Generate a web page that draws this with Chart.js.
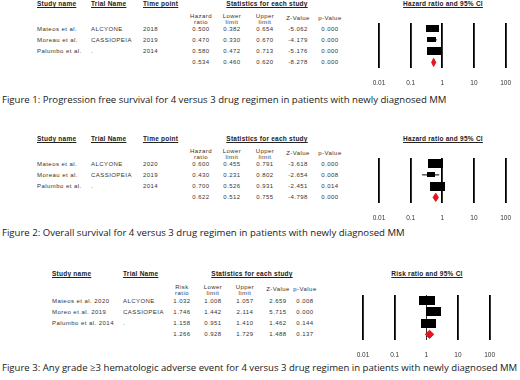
<!DOCTYPE html>
<html>
<head>
<meta charset="utf-8">
<script src="https://cdn.jsdelivr.net/npm/chart.js@4.4.1/dist/chart.umd.min.js"></script>
<style>
  body { margin: 0; background: #fff; }
  #page { position: relative; width: 520px; height: 380px; overflow: hidden;
          font-family: 'Liberation Sans', Arial, sans-serif; color: #333; }
  .t { position: absolute; white-space: nowrap; font-size: 6px; line-height: 6px; letter-spacing: 0.45px; }
  .c { transform: translateX(-50%); text-align: center; }
  .h { font-weight: bold; text-decoration: underline; font-size: 6.5px; color: #222; letter-spacing: 0.25px; }
  .cap { position: absolute; left: 2px; white-space: nowrap; font-family: 'Open Sans', sans-serif;
         font-size: 10px; line-height: 12px; color: #1a1a1a; }
  canvas { position: absolute; }
</style>
</head>
<body>
<div id="page"></div>
<script>
// Figura 1 - PFS
const fig1Studies = ['Mateos et al.', 'Moreau et al.', 'Palumbo et al.'];
const fig1Trials = ['ALCYONE', 'CASSIOPEIA', '.'];
const fig1Years = ['2018', '2019', '2014'];
const fig1Ratio = [0.500, 0.470, 0.580, 0.534];
const fig1Lower = [0.382, 0.330, 0.472, 0.460];
const fig1Upper = [0.654, 0.670, 0.713, 0.620];
const fig1Z = [-5.062, -4.179, -5.176, -8.278];
const fig1P = [0.000, 0.000, 0.000, 0.000];

// Figura 2 - OS
const fig2Studies = ['Mateos et al.', 'Moreau et al.', 'Palumbo et al.'];
const fig2Trials = ['ALCYONE', 'CASSIOPEIA', '.'];
const fig2Years = ['2020', '2019', '2014'];
const fig2Ratio = [0.600, 0.430, 0.700, 0.622];
const fig2Lower = [0.455, 0.231, 0.526, 0.512];
const fig2Upper = [0.791, 0.802, 0.931, 0.755];
const fig2Z = [-3.618, -2.654, -2.451, -4.798];
const fig2P = [0.000, 0.008, 0.014, 0.000];

// Figura 3 - eventos adversos
const fig3Studies = ['Mateos et al. 2020', 'Moreo et al. 2019', 'Palumbo et al. 2014'];
const fig3Trials = ['ALCYONE', 'CASSIOPEIA', '.'];
const fig3Ratio = [1.032, 1.746, 1.158, 1.266];
const fig3Lower = [1.008, 1.442, 0.951, 0.928];
const fig3Upper = [1.057, 2.114, 1.410, 1.729];
const fig3Z = [2.659, 5.715, 1.462, 1.488];
const fig3P = [0.008, 0.000, 0.144, 0.137];

const tickValues = [0.01, 0.1, 1, 10, 100];
const tickLabels = ['0.01', '0.1', '1', '10', '100'];

const captions = [
  'Figure 1: Progression free survival for 4 versus 3 drug regimen in patients with newly diagnosed MM',
  'Figure 2: Overall survival for 4 versus 3 drug regimen in patients with newly diagnosed MM',
  'Figure 3: Any grade \u22653 hematologic adverse event for 4 versus 3 drug regimen in patients with newly diagnosed MM'
];

const page = document.getElementById('page');

function put(txt, x, y, cls, center) {
  const d = document.createElement('div');
  d.className = 't ' + (cls || '') + (center ? ' c' : '');
  d.innerHTML = txt;
  d.style.left = x + 'px';
  d.style.top = (y - 3) + 'px';
  page.appendChild(d);
}

// legenda: ajusta o tamanho da fonte para a largura que tem na figura
function caption(txt, y, width) {
  const d = document.createElement('div');
  d.className = 'cap';
  d.textContent = txt;
  page.appendChild(d);
  const size = 10 * width / d.getBoundingClientRect().width;
  d.style.fontSize = size.toFixed(2) + 'px';
  d.style.top = (y - 6) + 'px';
}

function makeBox(w, h, color) {
  const c = document.createElement('canvas');
  c.width = w; c.height = h;
  const g = c.getContext('2d');
  g.fillStyle = color;
  g.fillRect(0, 0, w, h);
  return c;
}

// desenha o forest plot numa area de grafico dada (x0..x1, y0..y1)
function forest(area, ratio, lower, upper, boxes, thinOne) {
  const padL = 25, padR = 15, padT = 8, axisH = 20, padB = 7;
  const cv = document.createElement('canvas');
  const w = area.x1 - area.x0 + padL + padR;
  const h = area.y1 - area.y0 + padT + axisH + padB;
  cv.width = w; cv.height = h;
  cv.style.left = (area.x0 - padL) + 'px';
  cv.style.top = (area.y0 - padT) + 'px';
  cv.style.width = w + 'px';
  cv.style.height = h + 'px';
  page.appendChild(cv);

  const n = ratio.length - 1;
  const half = 0.36;
  const datasets = [];
  for (let i = 0; i < n; i++) {
    datasets.push({
      data: [{ x: lower[i], y: i }, { x: upper[i], y: i }],
      borderColor: '#000', borderWidth: 1, pointRadius: 0, showLine: true, fill: false, order: 3
    });
  }
  datasets.push({
    data: ratio.slice(0, n).map((v, i) => ({ x: v, y: i })),
    showLine: false, fill: false,
    pointStyle: boxes.map(b => makeBox(b[0], b[1], '#000')),
    pointRadius: 4, order: 2
  });
  datasets.push({
    data: [
      { x: lower[n], y: n }, { x: ratio[n], y: n - half },
      { x: upper[n], y: n }, { x: ratio[n], y: n + half }, { x: lower[n], y: n }
    ],
    showLine: true, fill: 'shape', tension: 0,
    borderColor: '#e8141c', backgroundColor: '#e8141c', borderWidth: 1, pointRadius: 0, order: 1
  });

  new Chart(cv, {
    type: 'line',
    data: { datasets },
    options: {
      responsive: false,
      animation: false,
      layout: { padding: { left: padL, right: padR, top: padT, bottom: padB } },
      plugins: { legend: { display: false }, tooltip: { enabled: false } },
      scales: {
        x: {
          type: 'logarithmic', min: 0.01, max: 100,
          afterBuildTicks: s => { s.ticks = tickValues.map(v => ({ value: v })); },
          afterFit: s => { s.height = axisH; },
          border: { display: false },
          grid: {
            color: '#000', drawTicks: false,
            lineWidth: c => (thinOne && c.tick && c.tick.value === 1) ? 0.8 : 1.8
          },
          ticks: {
            autoSkip: false, maxRotation: 0, padding: 11, color: '#333',
            font: { family: 'Liberation Sans', size: 6.5 },
            callback: (v, i) => tickLabels[i]
          }
        },
        y: { type: 'linear', min: -0.5, max: n + 0.5, reverse: true, display: false }
      }
    }
  });
}

// tabela das figuras 1 e 2
function table12(off, studies, trials, years, ratio, lower, upper, z, p) {
  const cols = [201, 232, 265, 298, 330];
  put('Study name', 37, 4 + off, 'h');
  put('Trial Name', 91, 4 + off, 'h');
  put('Time point', 143, 4 + off, 'h');
  put('Statistics for each study', 267, 4 + off, 'h', true);
  put('Hazard<br>ratio', cols[0], 15.5 + off, '', true);
  put('Lower<br>limit', cols[1], 15.5 + off, '', true);
  put('Upper<br>limit', cols[2], 15.5 + off, '', true);
  put('Z-Value', cols[3], 18 + off, '', true);
  put('p-Value', cols[4], 18 + off, '', true);
  put('Hazard ratio and 95% CI', 443, 4 + off, 'h', true);
  for (let i = 0; i < ratio.length; i++) {
    const y = 28.6 + i * 11.25 + off;
    if (i < studies.length) {
      put(studies[i], 37, y);
      put(trials[i], 91, y);
      put(years[i], 143, y);
    }
    [ratio[i], lower[i], upper[i], z[i], p[i]].forEach((v, k) => put(v.toFixed(3), cols[k], y, '', true));
  }
}

table12(0, fig1Studies, fig1Trials, fig1Years, fig1Ratio, fig1Lower, fig1Upper, fig1Z, fig1P);
table12(135, fig2Studies, fig2Trials, fig2Years, fig2Ratio, fig2Lower, fig2Upper, fig2Z, fig2P);

// tabela da figura 3
(function () {
  const off = 272;
  const cols = [182, 213, 245, 278, 305];
  put('Study name', 52, 2 + off, 'h');
  put('Trial Name', 123, 2 + off, 'h');
  put('Statistics for each study', 252, 2 + off, 'h', true);
  put('Risk<br>ratio', cols[0], 14.5 + off, '', true);
  put('Lower<br>limit', cols[1], 14.5 + off, '', true);
  put('Upper<br>limit', cols[2], 14.5 + off, '', true);
  put('Z-Value', cols[3], 17 + off, '', true);
  put('p-Value', cols[4], 17 + off, '', true);
  put('Risk ratio and 95% CI', 427, 2 + off, 'h', true);
  for (let i = 0; i < fig3Ratio.length; i++) {
    const y = 28.6 + i * 11.25 + off;
    if (i < fig3Studies.length) {
      put(fig3Studies[i], 52, y);
      put(fig3Trials[i], 123, y);
    }
    [fig3Ratio[i], fig3Lower[i], fig3Upper[i], fig3Z[i], fig3P[i]].forEach((v, k) => put(v.toFixed(3), cols[k], y, '', true));
  }
})();

document.fonts.ready.then(() => {
  caption(captions[0], 100, 445);
  caption(captions[1], 233, 403);
  caption(captions[2], 368, 516);
  forest({ x0: 379.3, x1: 507.3, y0: 23, y1: 68 }, fig1Ratio, fig1Lower, fig1Upper, [[13, 7], [9, 5], [15, 8]], false);
  forest({ x0: 379.3, x1: 507.3, y0: 158, y1: 203 }, fig2Ratio, fig2Lower, fig2Upper, [[15, 9], [8, 5], [15, 9]], false);
  forest({ x0: 363, x1: 491, y0: 295, y1: 340 }, fig3Ratio, fig3Lower, fig3Upper, [[16, 9], [15, 9], [15, 9]], true);
});
</script>
</body>
</html>
